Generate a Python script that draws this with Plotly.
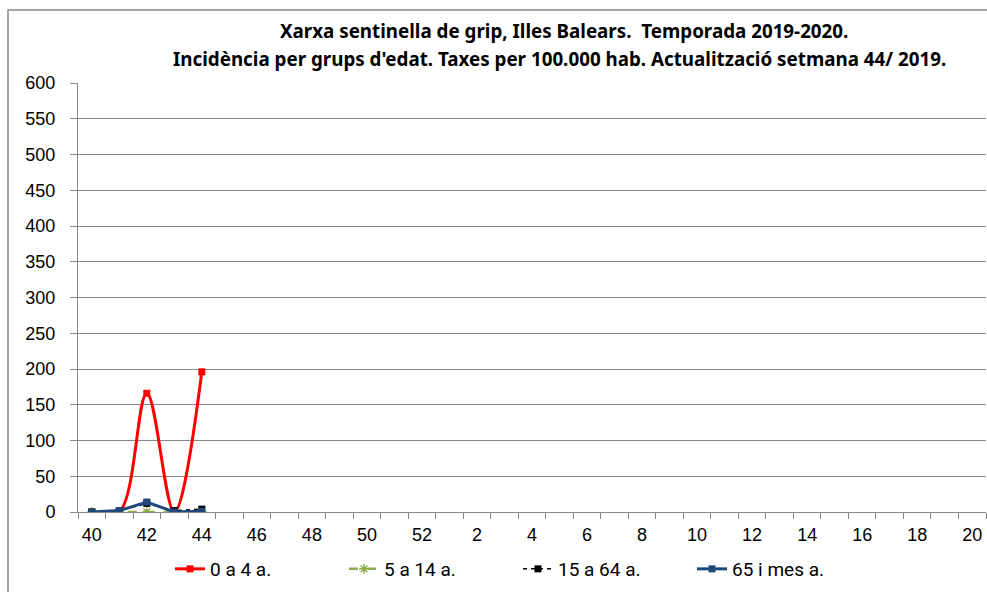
import plotly.graph_objects as go

weeks = [str(w) for w in list(range(40, 53)) + list(range(1, 21))]
tick_labels = [w for i, w in enumerate(weeks) if i % 2 == 0]

weeks_reported = ["40", "41", "42", "43", "44"]
age_0_4 = [0, 0, 166, 0, 196]
age_5_14 = [0, 0, 0, 0, 0]
age_15_64 = [0, 2, 12, 2, 4]
age_65 = [0, 2, 14, 0, 1]

title_line1 = "Xarxa sentinella de grip, Illes Balears.  Temporada 2019-2020."
title_line2 = "Incidència per grups d'edat. Taxes per 100.000 hab. Actualització setmana 44/ 2019."

idx = {w: i for i, w in enumerate(weeks)}
xs = [idx[w] for w in weeks_reported]

L, R, T, B = 78, 986, 83, 512
W, H = 987, 592
PW, PH = R - L, B - T

fig = go.Figure()
fig.add_trace(go.Scatter(x=xs, y=age_0_4, name="0 a 4 a.", mode="lines+markers",
                         line=dict(color="#FF0000", width=3, shape="spline", smoothing=1),
                         marker=dict(symbol="square", size=7, color="#FF0000")))
fig.add_trace(go.Scatter(x=xs, y=age_5_14, name="5 a 14 a.", mode="lines+markers",
                         line=dict(color="#8DAA4C", width=2.5, dash="dash"),
                         marker=dict(symbol="asterisk-open", size=8, color="#8DAA4C",
                                     line=dict(width=1.5, color="#8DAA4C"))))
fig.add_trace(go.Scatter(x=xs, y=age_15_64, name="15 a 64 a.", mode="lines+markers",
                         line=dict(color="#000000", width=1.5, dash="4px,4px"),
                         marker=dict(symbol="square", size=7, color="#000000")))
fig.add_trace(go.Scatter(x=xs, y=age_65, name="65 i mes a.", mode="lines+markers",
                         line=dict(color="#1F497D", width=3),
                         marker=dict(symbol="square", size=7, color="#1F497D")))

n = len(weeks)
# invisible trace for secondary x-axis (category boundary ticks)
fig.add_trace(go.Scatter(x=[-0.5, n - 0.5], y=[None, None], xaxis="x2",
                         showlegend=False, hoverinfo="skip"))

title_font = dict(family="Noto Sans, sans-serif", size=18.8, color="black")
fig.update_layout(
    width=W, height=H,
    paper_bgcolor="white", plot_bgcolor="white",
    margin=dict(l=L, r=W - R, t=T, b=H - B, autoexpand=False),
    font=dict(family="Liberation Sans, Arial, sans-serif", size=18, color="black"),
    xaxis=dict(
        range=[-0.5, n - 0.5],
        tickmode="array",
        tickvals=[i for i in range(0, n, 2)],
        ticktext=tick_labels,
        ticks="", showgrid=False, zeroline=False, automargin=False,
        showline=True, linecolor="#888888", linewidth=1,
        tickfont=dict(size=18), ticklabelstandoff=6,
    ),
    xaxis2=dict(
        overlaying="x", range=[-0.5, n - 0.5], side="bottom",
        tickmode="array", tickvals=[i - 0.5 for i in range(n + 1)],
        ticks="outside", ticklen=6, tickcolor="#888888",
        showticklabels=False, showgrid=False, zeroline=False, automargin=False,
        anchor="y",
    ),
    yaxis=dict(
        range=[0, 600], tickmode="linear", tick0=0, dtick=50,
        ticks="outside", ticklen=7, tickcolor="#888888",
        showgrid=True, gridcolor="#888888", gridwidth=1, automargin=False,
        zeroline=False, showline=True, linecolor="#888888", linewidth=1,
        tickfont=dict(size=18), ticklabelstandoff=11,
    ),
    legend=dict(
        orientation="h", x=(170 - L) / PW, xanchor="left", y=-(569 - B) / PH, yanchor="middle",
        font=dict(family="Roboto, sans-serif", size=19, color="black"),
        entrywidth=129, entrywidthmode="pixels", tracegroupgap=0,
    ),
    annotations=[
        dict(text="<b>" + title_line1 + "</b>", xref="paper", yref="paper",
             x=(564 - L) / PW, y=(B - 31) / PH, xanchor="center", yanchor="middle",
             showarrow=False, font=title_font),
        dict(text="<b>" + title_line2 + "</b>", xref="paper", yref="paper",
             x=(559 - L) / PW, y=(B - 59) / PH, xanchor="center", yanchor="middle",
             showarrow=False, font=title_font),
    ],
    shapes=[dict(type="rect", xref="paper", yref="paper",
                 x0=(8 - L) / PW, x1=(W + 20 - L) / PW,
                 y0=-(H + 20 - B) / PH, y1=(B - 10) / PH,
                 line=dict(color="#888888", width=1.5), fillcolor="rgba(0,0,0,0)", layer="below")],
)

fig.write_html("out.html", config={"displayModeBar": False},
               post_script="document.body.style.margin='0';")
